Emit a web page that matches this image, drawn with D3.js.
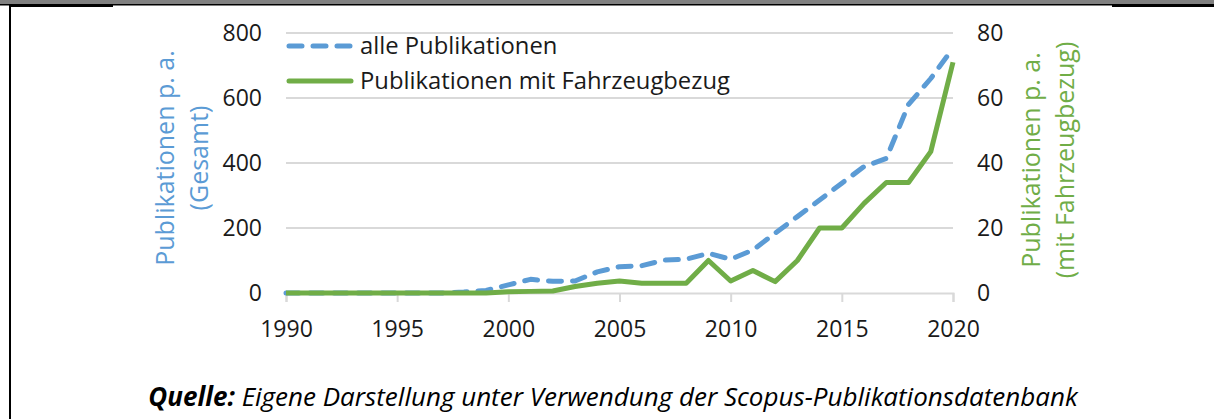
<!DOCTYPE html>
<html>
<head>
<meta charset="utf-8">
<script src="https://cdn.jsdelivr.net/npm/d3@7"></script>
<style>
  body { margin: 0; background: #fff; }
  svg { display: block; font-family: "Open Sans", sans-serif; }
</style>
</head>
<body>
<div id="chart"></div>
<script>
var w = 1214;
var h = 419;

// data
var years = [1990, 1991, 1992, 1993, 1994, 1995, 1996, 1997, 1998, 1999, 2000,
             2001, 2002, 2003, 2004, 2005, 2006, 2007, 2008, 2009, 2010,
             2011, 2012, 2013, 2014, 2015, 2016, 2017, 2018, 2019, 2020];
var allePublikationen = [0, 0, 0, 0, 0, 0, 0, 0, 3, 8, 25,
                         42, 36, 37, 65, 81, 84, 101, 104, 122, 104,
                         132, 184, 235, 286, 338, 389, 414, 580, 660, 753];
var fahrzeugPublikationen = [0, 0, 0, 0, 0, 0, 0, 0, 0, 0, 0.4,
                             0.5, 0.6, 2, 3, 3.7, 3, 3, 3, 10, 3.7,
                             6.9, 3.5, 10, 20, 20, 27.6, 34, 34, 43.5, 71];
var xTicks = [1990, 1995, 2000, 2005, 2010, 2015, 2020];
var leftTicks = [0, 200, 400, 600, 800];
var rightTicks = [0, 20, 40, 60, 80];

var blue = "#5B9BD5";
var green = "#70AD47";
var grid = "#D9D9D9";

var svg = d3.select("#chart")
  .append("svg")
  .attr("width", w)
  .attr("height", h);

// frame remains from the page layout
svg.append("rect").attr("x", 0).attr("y", 0).attr("width", w).attr("height", 4).attr("fill", "#808080");
svg.append("rect").attr("x", 0).attr("y", 4).attr("width", w).attr("height", 1.5).attr("fill", "#000");
svg.append("rect").attr("x", 10).attr("y", 4).attr("width", 103).attr("height", 3).attr("fill", "#000");
svg.append("rect").attr("x", 1112).attr("y", 4).attr("width", 102).attr("height", 3).attr("fill", "#000");
svg.append("rect").attr("x", 9).attr("y", 4).attr("width", 2).attr("height", h).attr("fill", "#000");

var x = d3.scaleLinear().domain([1990, 2020]).range([286, 953]);
var yL = d3.scaleLinear().domain([0, 800]).range([293, 33]);
var yR = d3.scaleLinear().domain([0, 80]).range([293, 33]);

// gridlines
svg.append("g")
  .selectAll("line")
  .data(leftTicks.slice(1))
  .enter()
  .append("line")
  .attr("x1", x(1990)).attr("x2", x(2020))
  .attr("y1", function(d) { return yL(d); })
  .attr("y2", function(d) { return yL(d); })
  .attr("stroke", grid)
  .attr("stroke-width", 2);

// x axis
var xAxis = svg.append("g")
  .attr("transform", "translate(0," + yL(0) + ")")
  .call(d3.axisBottom(x).tickValues(xTicks).tickFormat(d3.format("d")).tickSize(9).tickPadding(19));
xAxis.select(".domain").attr("stroke", grid).attr("stroke-width", 2);
xAxis.selectAll(".tick line").attr("stroke", grid).attr("stroke-width", 2);
xAxis.selectAll(".tick text").attr("fill", "#1a1a1a").style("font-size", "23px").style("font-family", "Open Sans, sans-serif");

// left axis
var leftAxis = svg.append("g")
  .attr("transform", "translate(262,0)")
  .call(d3.axisLeft(yL).tickValues(leftTicks).tickSize(0).tickPadding(0));
leftAxis.select(".domain").remove();
leftAxis.selectAll(".tick text").attr("fill", "#1a1a1a").style("font-size", "23px").style("font-family", "Open Sans, sans-serif");

// right axis
var rightAxis = svg.append("g")
  .attr("transform", "translate(977,0)")
  .call(d3.axisRight(yR).tickValues(rightTicks).tickSize(0).tickPadding(0));
rightAxis.select(".domain").remove();
rightAxis.selectAll(".tick text").attr("fill", "#1a1a1a").style("font-size", "23px").style("font-family", "Open Sans, sans-serif");

// axis titles
function axisTitle(cx, cy, lines, color) {
  var t = svg.append("text")
    .attr("transform", "translate(" + cx + "," + cy + ") rotate(-90)")
    .attr("text-anchor", "middle")
    .attr("fill", color)
    .style("font-size", "25px");
  lines.forEach(function(l, i) {
    t.append("tspan").attr("x", 0).attr("dy", i == 0 ? 0 : 34).text(l);
  });
}
axisTitle(174, 158, ["Publikationen p. a.", "(Gesamt)"], blue);
axisTitle(1040, 160, ["Publikationen p. a.", "(mit Fahrzeugbezug)"], green);

// lines
var lineL = d3.line()
  .x(function(d, i) { return x(years[i]); })
  .y(function(d) { return yL(d); });
var lineR = d3.line()
  .x(function(d, i) { return x(years[i]); })
  .y(function(d) { return yR(d); });

svg.append("path")
  .datum(allePublikationen)
  .attr("d", lineL)
  .attr("fill", "none")
  .attr("stroke", blue)
  .attr("stroke-width", 5)
  .attr("stroke-dasharray", "13,11")
  .attr("stroke-linecap", "round")
  .attr("stroke-linejoin", "round");

svg.append("path")
  .datum(fahrzeugPublikationen)
  .attr("d", lineR)
  .attr("fill", "none")
  .attr("stroke", green)
  .attr("stroke-width", 5)
  .attr("stroke-linejoin", "round");

// legend
var legend = [
  { label: "alle Publikationen", color: blue, dash: "13,11", y: 46 },
  { label: "Publikationen mit Fahrzeugbezug", color: green, dash: null, y: 81 }
];
var lg = svg.append("g").selectAll("g").data(legend).enter().append("g");
lg.append("line")
  .attr("x1", 289).attr("x2", 351)
  .attr("y1", function(d) { return d.y; })
  .attr("y2", function(d) { return d.y; })
  .attr("stroke", function(d) { return d.color; })
  .attr("stroke-width", 5)
  .attr("stroke-linecap", "round")
  .attr("stroke-dasharray", function(d) { return d.dash; });
lg.append("text")
  .attr("x", 360)
  .attr("y", function(d) { return d.y; })
  .attr("dy", "0.35em")
  .attr("fill", "#1a1a1a")
  .style("font-size", "23.8px")
  .text(function(d) { return d.label; });

// source line
var src = svg.append("text")
  .attr("x", 613)
  .attr("y", 406)
  .attr("text-anchor", "middle")
  .attr("fill", "#000")
  .style("font-size", "26px")
  .style("font-style", "italic");
src.append("tspan").style("font-weight", "bold").text("Quelle:");
src.append("tspan").text(" Eigene Darstellung unter Verwendung der Scopus-Publikationsdatenbank");
</script>
</body>
</html>
